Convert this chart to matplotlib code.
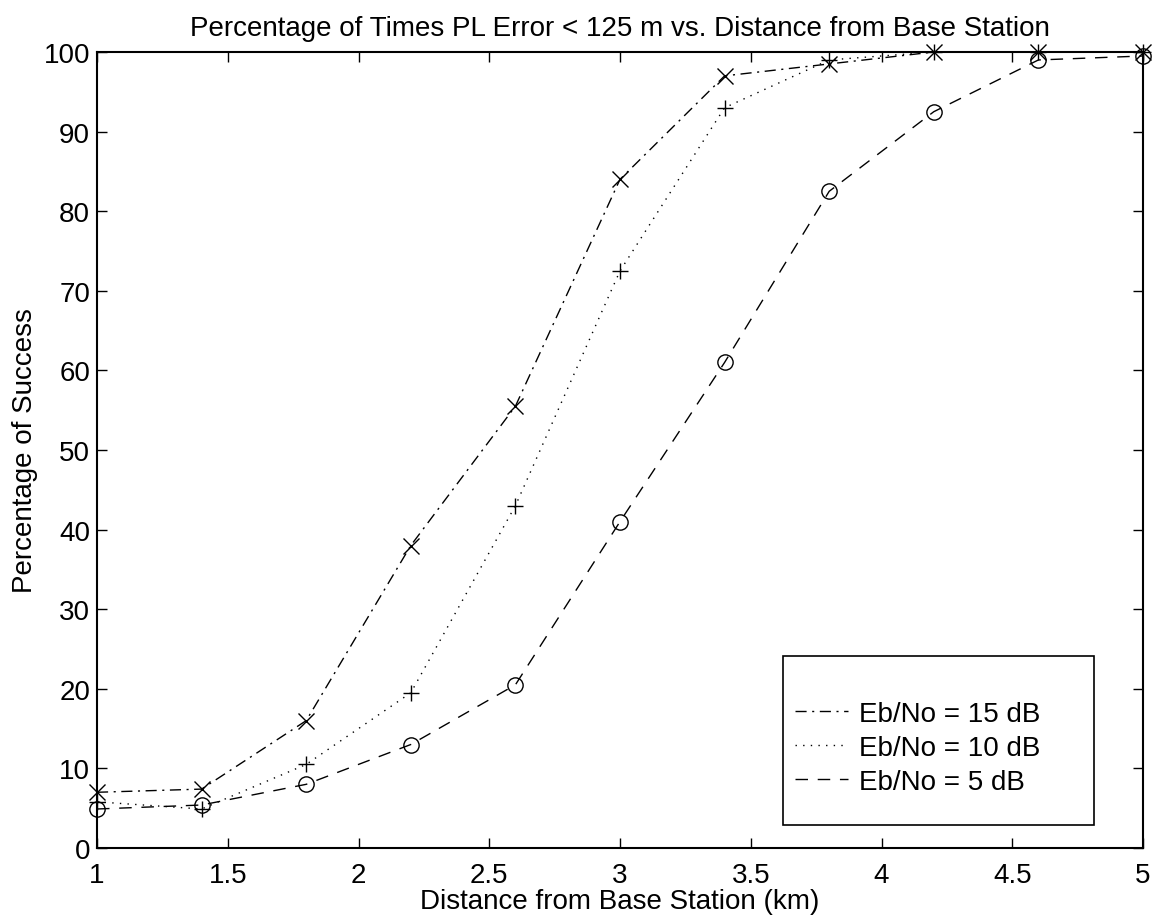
import matplotlib
matplotlib.use("Agg")
import matplotlib.pyplot as plt
from matplotlib.lines import Line2D
from matplotlib.patches import Rectangle

plt.rcParams['font.family'] = ['Liberation Sans', 'DejaVu Sans']

distance_km = [1.0, 1.4, 1.8, 2.2, 2.6, 3.0, 3.4, 3.8, 4.2, 4.6, 5.0]
success_15dB = [7.0, 7.4, 16.0, 38.0, 55.5, 84.0, 97.0, 98.5, 100.0, 100.0, 100.0]
success_10dB = [5.8, 4.9, 10.5, 19.5, 43.0, 72.5, 93.0, 99.0, 100.0, 100.0, 100.0]
success_5dB = [4.9, 5.4, 8.0, 13.0, 20.5, 41.0, 61.0, 82.5, 92.5, 99.0, 99.5]

labels = ['Eb/No = 15 dB', 'Eb/No = 10 dB', 'Eb/No = 5 dB']
x_ticks = [1, 1.5, 2, 2.5, 3, 3.5, 4, 4.5, 5]
x_tick_labels = ['1', '1.5', '2', '2.5', '3', '3.5', '4', '4.5', '5']
y_ticks = list(range(0, 101, 10))

FS = 20
W, H = 1162, 920
AX_L, AX_R, AX_T, AX_B = 97, 1143, 53, 849

fig = plt.figure(figsize=(W / 100, H / 100), dpi=100)
ax = fig.add_axes([AX_L / W, 1 - AX_B / H, (AX_R - AX_L) / W, (AX_B - AX_T) / H])

lw = 1.0
ls15 = (0, (8, 4, 1.5, 4))
ls10 = (0, (1, 4.5))
ls5 = (0, (9, 7))
ax.plot(distance_km, success_15dB, color='black', lw=lw, linestyle=ls15,
        marker='x', markersize=11, markeredgewidth=1.0, clip_on=False)
ax.plot(distance_km, success_10dB, color='black', lw=lw, linestyle=ls10,
        marker='+', markersize=11, markeredgewidth=1.0, clip_on=False)
ax.plot(distance_km, success_5dB, color='black', lw=lw, linestyle=ls5,
        marker='o', markersize=11, markeredgewidth=1.0, markerfacecolor='none', clip_on=False)

ax.set_xlim(1, 5)
ax.set_ylim(0, 100)
ax.set_xticks(x_ticks)
ax.set_xticklabels(x_tick_labels)
ax.set_yticks(y_ticks)
ax.tick_params(direction='in', top=True, right=True, length=7, width=1, labelsize=FS)
ax.tick_params(axis='x', pad=10)
ax.tick_params(axis='y', pad=5)
for s in ax.spines.values():
    s.set_linewidth(1.5)

ax.set_title('Percentage of Times PL Error < 125 m vs. Distance from Base Station', fontsize=FS, pad=12)
ax.set_xlabel('Distance from Base Station (km)', fontsize=FS, labelpad=0)
ax.set_ylabel('Percentage of Success', fontsize=FS, labelpad=4)

# legend box (drawn separately so padding can match the reference)
def ax_x(px):
    return (px - AX_L) / (AX_R - AX_L)

def ax_y(py):
    return (AX_B - py) / (AX_B - AX_T)

box = Rectangle((ax_x(783), ax_y(826)), ax_x(1094) - ax_x(783), ax_y(657) - ax_y(826),
                transform=ax.transAxes, facecolor='white', edgecolor='black', lw=1.2, zorder=5)
ax.add_patch(box)

handles = [Line2D([], [], color='black', lw=lw, linestyle=ls15),
           Line2D([], [], color='black', lw=lw, linestyle=ls10),
           Line2D([], [], color='black', lw=lw, linestyle=ls5)]
leg = ax.legend(handles, labels, loc='upper left', bbox_to_anchor=(ax_x(795), ax_y(702)),
                fontsize=FS, frameon=False, handlelength=1.9, handletextpad=0.4,
                borderpad=0, labelspacing=0.28, borderaxespad=0)
leg.set_zorder(6)

fig.savefig('out.png', dpi=100)
